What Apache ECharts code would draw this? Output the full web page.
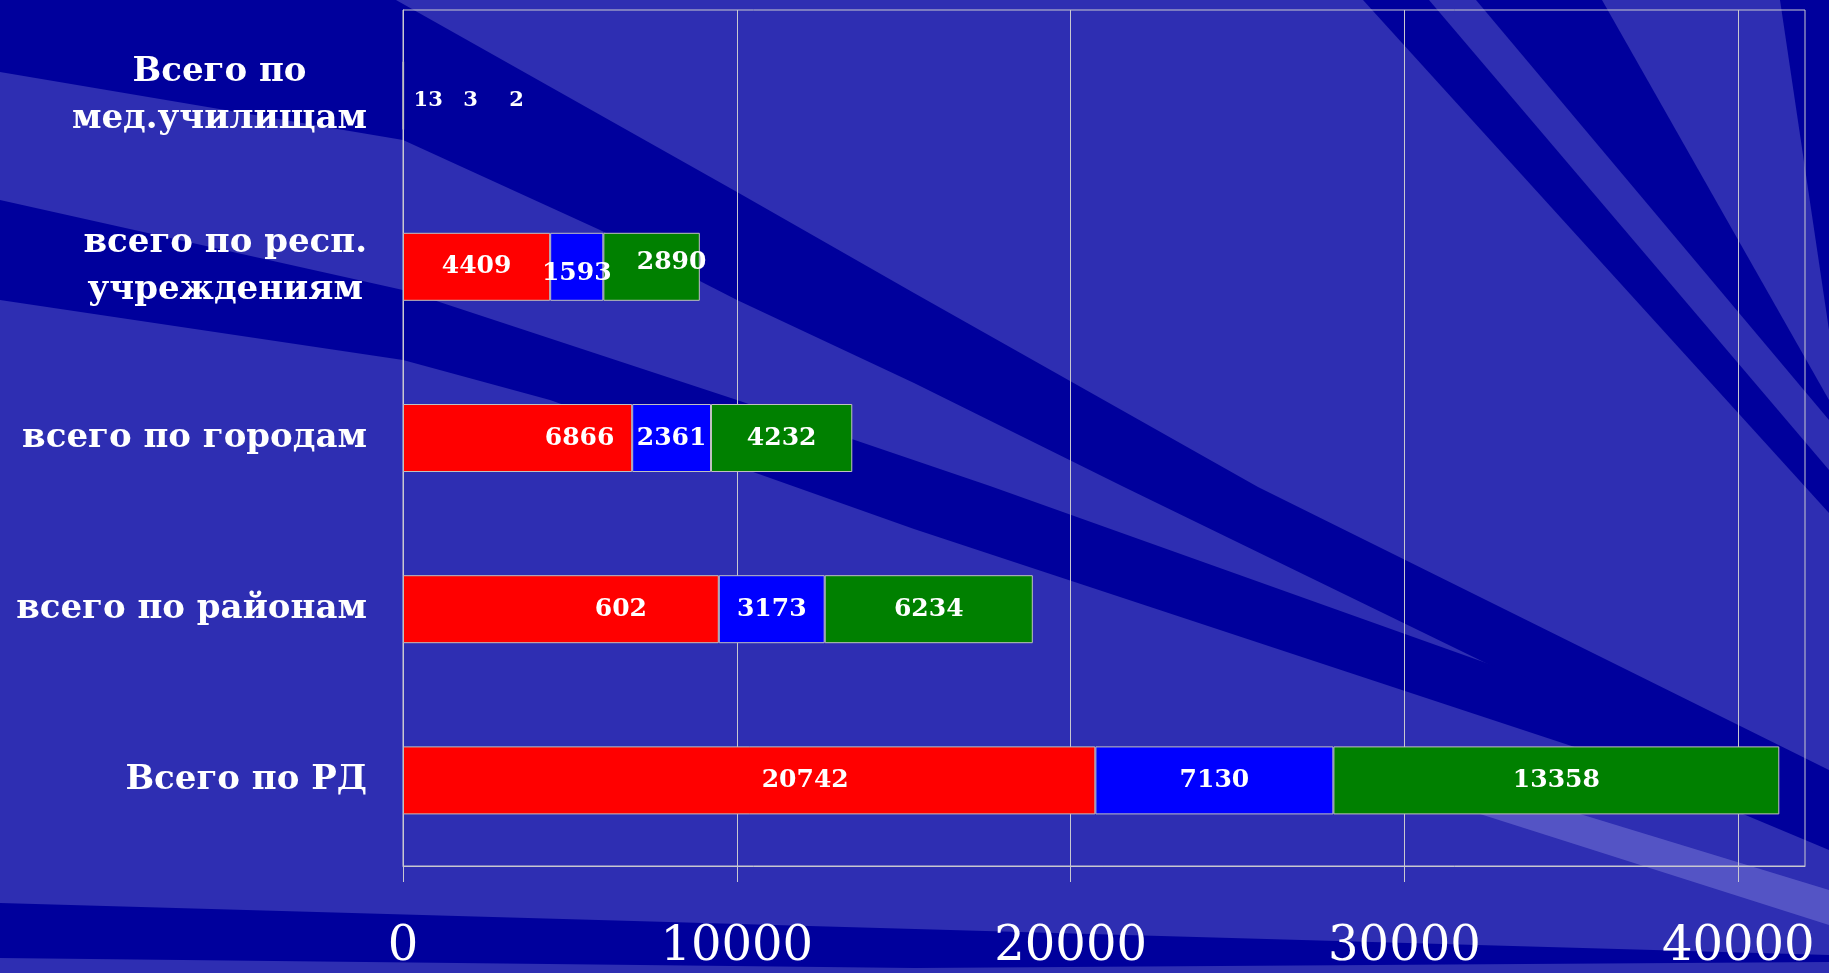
<!DOCTYPE html>
<html>
<head>
<meta charset="utf-8">
<script src="https://cdn.jsdelivr.net/npm/echarts@6/dist/echarts.min.js"></script>
<style>
    html, body { margin: 0; padding: 0; background: #2e2eb2; }
    #chart { width: 1829px; height: 973px; }
</style>
</head>
<body>
<div id="chart"></div>
<script>
    // данные
    var categories = ['Всего по\nмед.училищам', 'всего по респ.\nучреждениям', 'всего по городам', 'всего по районам', 'Всего по РД'];
    var redValues = [13, 4409, 6866, 9460, 20742];
    var blueValues = [3, 1593, 2361, 3173, 7130];
    var greenValues = [2, 2890, 4232, 6234, 13358];
    // подписи красных столбцов так, как они напечатаны на слайде
    var redLabels = ['13', '4409', '6866', '602', '20742'];
    var xTicks = [0, 10000, 20000, 30000, 40000];

    // смещения подписей (px)
    var redOffsets = [[25, 5], [0, 0], [62, 0], [60, 0], [56, 0]];
    var blueOffsets = [[67, 5], [0, 7], [0, 0], [0, 0], [0, 0]];
    var greenOffsets = [[113, 5], [20, -4], [0, 0], [0, 0], [0, 0]];

    var base = '#2e2eb2';
    var dark = '#00009c';
    // фон слайда: диагональные полосы
    var bgShapes = [
        { fill: dark, pts: [[0, 0], [396, 0], [737, 192], [914, 293], [1258, 487], [1829, 770], [1829, 830], [1124, 487], [914, 383], [737, 300], [600, 230], [403, 140], [0, 72]] },
        { fill: dark, pts: [[0, 200], [403, 290], [737, 400], [990, 486], [1719, 746], [1829, 800], [1829, 850], [1614, 760], [914, 529], [550, 400], [403, 360], [0, 300]] },
        { fill: dark, pts: [[1363, 0], [1602, 0], [1829, 400], [1829, 513]] },
        { fill: base, pts: [[1429, 0], [1476, 0], [1829, 420], [1829, 470]] },
        { fill: dark, pts: [[1780, 0], [1829, 0], [1829, 330]] },
        { fill: dark, pts: [[0, 903], [915, 929], [1829, 955], [1829, 962], [915, 968], [0, 958]] },
        { fill: 'rgba(200,200,255,0.25)', pts: [[1480, 814], [1580, 814], [1829, 890], [1829, 925]] }
    ];
    var graphics = bgShapes.map(function (s) {
        return {
            type: 'polygon',
            z: -10,
            silent: true,
            shape: { points: s.pts },
            style: { fill: s.fill }
        };
    });

    function makeData(values, offsets, texts) {
        return values.map(function (v, i) {
            return {
                value: v,
                label: {
                    offset: offsets[i],
                    fontSize: i === 0 ? 21 : 25,
                    formatter: texts ? texts[i] : String(v)
                }
            };
        });
    }

    var labelStyle = {
        show: true,
        position: 'inside',
        color: '#ffffff',
        fontFamily: 'DejaVu Serif',
        fontWeight: 'bold',
        fontSize: 25
    };

    var myChart = echarts.init(document.getElementById('chart'));
    var option = {
        backgroundColor: base,
        animation: false,
        graphic: graphics,
        grid: {
            left: 403,
            right: 24,
            top: 10,
            bottom: 107,
            show: true,
            borderColor: '#c8c8d0',
            borderWidth: 1,
            backgroundColor: 'transparent',
            outerBoundsMode: 'none'
        },
        xAxis: {
            type: 'value',
            min: 0,
            max: 42000,
            interval: 10000,
            axisLine: { show: true, lineStyle: { color: '#c8c8d0', width: 1 } },
            axisTick: {
                show: true,
                length: 16,
                customValues: xTicks,
                lineStyle: { color: '#c8c8d0' }
            },
            axisLabel: {
                customValues: xTicks,
                color: '#ffffff',
                fontFamily: 'DejaVu Serif',
                fontSize: 48,
                margin: 58,
                formatter: function (v) { return String(v); }
            },
            splitLine: { show: true, lineStyle: { color: '#c8c8d0', width: 1 } }
        },
        yAxis: {
            type: 'category',
            inverse: true,
            data: categories,
            axisLine: { show: true, lineStyle: { color: '#c8c8d0', width: 1 } },
            axisTick: { show: false },
            splitLine: { show: false },
            axisLabel: {
                margin: 36,
                color: '#ffffff',
                formatter: function (value) {
                    return value.split('\n').map(function (s) {
                        return '{c|' + s + '}';
                    }).join('\n');
                },
                rich: {
                    c: {
                        align: 'center',
                        color: '#ffffff',
                        fontFamily: 'DejaVu Serif',
                        fontWeight: 'bold',
                        fontSize: 34,
                        lineHeight: 47
                    }
                }
            }
        },
        series: [{
            name: 'red',
            type: 'bar',
            stack: 'total',
            barWidth: 68,
            itemStyle: { color: '#ff0000', borderColor: '#c0c0c0', borderWidth: 1 },
            label: labelStyle,
            data: makeData(redValues, redOffsets, redLabels)
        }, {
            name: 'blue',
            type: 'bar',
            stack: 'total',
            barWidth: 68,
            itemStyle: { color: '#0000ff', borderColor: '#c0c0c0', borderWidth: 1 },
            label: labelStyle,
            data: makeData(blueValues, blueOffsets)
        }, {
            name: 'green',
            type: 'bar',
            stack: 'total',
            barWidth: 68,
            itemStyle: { color: '#008000', borderColor: '#c0c0c0', borderWidth: 1 },
            label: labelStyle,
            data: makeData(greenValues, greenOffsets)
        }]
    };
    myChart.setOption(option);
    window.onresize = function () {
        myChart.resize();
    };
</script>
</body>
</html>
